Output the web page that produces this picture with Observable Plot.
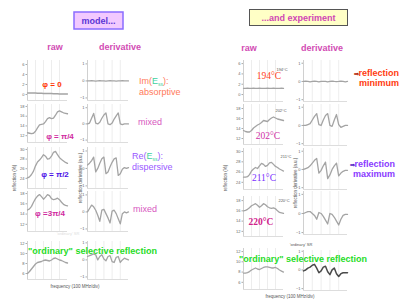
<!DOCTYPE html>
<html><head><meta charset="utf-8">
<script src="https://cdn.jsdelivr.net/npm/d3@7"></script>
<script src="https://cdn.jsdelivr.net/npm/@observablehq/plot@0.6"></script>
<style>
html,body{margin:0;padding:0;background:#fff;}
#fig{position:relative;width:406px;height:304px;overflow:hidden;background:#fff;font-family:"Liberation Sans",Arial,sans-serif;}
#fig svg.panel{position:absolute;}
#ann{position:absolute;left:0;top:0;}
</style></head><body><div id="fig"></div>
<script>
// frequency positions (100 MHz/div)
const freq = [0,0.5,1,1.5,2,2.5,3,3.5,4,4.5,5,5.5,6,6.5,7,7.5,8,8.5,9,9.5,10];
const gridFreq = [2,4,6,8];

// tick labels
const ticks0to6 = [0,2,4,6];
const ticks12to18 = [12,14,16,18];
const ticks24to30 = [24,26,28,30];
const ticks6to12 = [6,8,10,12];
const ticksDeriv = [-1,0,1];

// model: raw reflection (%)
const rawPhi0    = [0.3,0.3,0.3,0.3,0.3,0.25,0.25,0.25,0.2,0.2,0.2,0.2,0.2,0.15,0.15,0.15,0.1,0.1,0.1,0.1,0.1];
const rawPhiPi4  = [12.6,12.5,12.4,12.5,12.9,13.6,14.2,14.3,14.4,14.9,15.5,15.7,15.5,15.6,16.2,16.9,17.1,16.9,16.7,16.6,16.5];
const rawPhiPi2  = [24.1,24.3,24.8,25.5,26.6,27.4,27.8,28.3,28.9,28.6,28.0,28.1,28.6,29.4,29.6,28.9,28.3,27.9,27.6,27.3,27.1];
const rawPhi3Pi4 = [14.8,15.0,15.5,16.3,17.0,17.5,17.8,17.4,16.9,17.3,17.8,17.6,17.0,16.8,16.9,17.1,16.8,16.3,15.9,15.7,15.6];
const rawOrdModel= [6.0,6.4,6.9,7.4,7.9,8.2,8.3,8.4,8.6,8.7,8.6,8.5,8.7,9.0,9.1,8.9,8.7,8.6,8.4,8.2,8.1];
// model: derivative (a.u.)
const derPhi0    = [0.0,0.0,0.01,0.0,-0.01,0.0,0.01,0.0,0.0,-0.01,0.0,0.01,0.0,0.0,-0.01,0.0,0.0,0.01,0.0,0.0,0.0];
const derPhiPi4  = [0.0,0.05,0.35,0.65,0.05,0.0,0.1,0.35,0.55,0.68,0.0,-0.05,0.05,0.3,0.5,0.68,0.0,-0.05,0.0,0.0,0.0];
const derPhiPi2  = [0.2,0.3,0.45,0.65,-0.2,0.0,0.3,0.55,0.65,-0.3,-0.2,0.1,0.35,0.55,0.6,-0.4,-0.3,-0.05,0.05,0.0,0.05];
const derPhi3Pi4 = [0.0,0.2,0.4,0.3,0.1,-0.2,-0.55,0.1,0.15,-0.1,-0.35,-0.65,0.05,0.1,-0.1,-0.4,-0.7,-0.1,0.0,-0.05,0.0];
const derOrdModel= [0.2,0.25,0.3,0.35,0.3,0.0,0.2,0.3,0.05,-0.05,0.2,0.25,-0.1,-0.15,0.15,0.2,-0.15,0.0,0.1,0.05,0.0];

// experiment: raw reflection (%)
const rawT194 = [1.2,1.2,1.25,1.2,1.2,1.25,1.2,1.2,1.25,1.2,1.2,1.2,1.25,1.2,1.2,1.25,1.2,1.2,1.2,1.25,1.2];
const rawT202 = [13.6,13.4,13.3,13.3,13.6,14.1,14.4,14.7,14.9,15.2,15.6,15.5,15.4,15.8,16.1,16.3,16.1,15.9,15.8,15.7,15.6];
const rawT211 = [25.0,25.0,25.1,25.5,26.2,26.6,26.9,26.7,27.2,27.7,27.5,27.1,27.3,27.8,27.9,27.5,27.1,26.9,26.6,26.4,26.2];
const rawT220 = [16.0,16.1,16.3,16.6,17.0,17.2,17.4,17.1,16.7,17.0,17.4,17.2,16.8,16.6,16.5,16.6,16.4,16.0,15.7,15.6,15.5];
const rawOrdExp = [7.8,7.8,7.9,8.1,8.4,8.6,8.8,8.6,8.5,8.7,8.9,9.0,9.0,8.9,8.8,8.8,8.9,8.7,8.4,8.2,8.0];
// experiment: derivative (a.u.)
const derT194 = [0.0,0.02,0.0,-0.02,0.0,0.02,0.0,-0.02,0.0,0.01,0.0,-0.02,0.0,0.02,0.0,-0.01,0.0,0.02,0.0,-0.02,0.0];
const derT202 = [0.0,0.0,0.05,0.1,0.3,0.5,0.65,0.05,0.0,0.3,0.55,0.65,0.0,-0.05,0.3,0.6,0.05,-0.1,-0.05,0.0,0.0];
const derT211 = [0.0,0.05,0.1,0.2,0.35,0.5,0.6,-0.2,-0.05,0.2,0.4,-0.5,-0.3,0.0,0.2,0.35,-0.35,-0.2,-0.1,-0.05,-0.05];
const derT220 = [0.0,0.05,0.1,0.1,0.0,-0.1,-0.3,0.05,0.0,-0.15,-0.35,-0.55,0.0,-0.05,-0.2,-0.4,-0.6,-0.3,-0.1,-0.05,-0.05];
const derOrdExp = [-0.05,0.0,0.1,0.15,0.25,0.3,0.1,-0.15,-0.05,0.15,0.2,-0.1,-0.25,0.0,0.1,-0.2,-0.35,-0.2,-0.15,-0.15,-0.15];

const fig = document.getElementById("fig");

function panel(series, ticks, domain, frame, stroke = "#a4a4a4", sw = 1.3) {
  const [x0, x1, y0, y1] = frame;
  const ml = 12, mr = 2, mt = 2, mb = 2;
  const data = freq.map((f, i) => ({f, v: series[i]}));
  const svg = Plot.plot({
    width: (x1 - x0) + ml + mr,
    height: (y1 - y0) + mt + mb,
    marginLeft: ml, marginRight: mr, marginTop: mt, marginBottom: mb,
    x: {domain: [0, 10], axis: null},
    y: {domain, axis: null, label: null},
    style: {background: "transparent", overflow: "visible", fontFamily: "Liberation Sans, Arial, sans-serif", color: "#777"},
    marks: [
      Plot.ruleX(gridFreq, {stroke: "#e8e8e8", strokeWidth: 0.8}),
      Plot.ruleY([domain[0]], {stroke: "#d4d4d4", strokeWidth: 0.8}),
      Plot.ruleX([0], {stroke: "#c4c4c4", strokeWidth: 0.8}),
      Plot.axisY(ticks, {tickSize: 1.5, tickPadding: 1.5, fontSize: 4, label: null, stroke: "#aaa", fill: "#666"}),
      Plot.line(data, {x: "f", y: "v", stroke, strokeWidth: sw, curve: "linear"})
    ]
  });
  svg.classList.add("panel");
  svg.style.left = (x0 - ml) + "px";
  svg.style.top = (y0 - mt) + "px";
  fig.appendChild(svg);
}

// model panels
panel(rawPhi0,     ticks0to6,   [-1.2, 6.8],  [27, 67, 60, 100]);
panel(rawPhiPi4,   ticks12to18, [10.6, 18.4], [27, 67, 104, 142]);
panel(rawPhiPi2,   ticks24to30, [21.9, 30.4], [27, 67, 147, 188]);
panel(rawPhi3Pi4,  ticks12to18, [10.6, 18.4], [27, 67, 191, 231]);
panel(rawOrdModel, ticks6to12,  [4.8, 12.4],  [27, 67, 241, 279]);
panel(derPhi0,     ticksDeriv, [-1.15, 1.2], [87, 128, 60, 100]);
panel(derPhiPi4,   ticksDeriv, [-1.15, 1.2], [87, 128, 104, 142]);
panel(derPhiPi2,   ticksDeriv, [-1.15, 1.2], [87, 128, 147, 188]);
panel(derPhi3Pi4,  ticksDeriv, [-1.15, 1.2], [87, 128, 191, 231]);
panel(derOrdModel, ticksDeriv, [-1.15, 1.08], [87, 128, 241, 279]);

// experiment panels
panel(rawT194,   ticks0to6,   [-1.35, 6.6], [243, 283, 60, 101]);
panel(rawT202,   ticks12to18, [10.8, 18.8], [243, 283, 104, 144]);
panel(rawT211,   ticks24to30, [22.6, 30.6], [243, 283, 148, 189]);
panel(rawT220,   ticks12to18, [11, 18.8],   [243, 283, 196, 236]);
panel(rawOrdExp, ticks6to12,  [4.6, 12.6],  [243, 283, 248, 289]);
panel(derT194,   ticksDeriv, [-1.1, 1.15], [303, 347, 60, 101]);
panel(derT202,   ticksDeriv, [-1.1, 1.15], [303, 347, 104, 145]);
panel(derT211,   ticksDeriv, [-1.1, 1.15], [303, 347, 148, 189]);
panel(derT220,   ticksDeriv, [-1.1, 1.15], [303, 347, 191, 234]);
panel(derOrdExp, ticksDeriv, [-1.1, 1.04], [303, 347, 250, 290], "#4a4a4a", 1.5);

// annotations
const S = "Liberation Serif, Times New Roman, serif";
const ann = `
<svg id="ann" width="406" height="304" xmlns="http://www.w3.org/2000/svg" font-family="Liberation Sans, Arial, sans-serif">
  <rect x="74" y="12" width="49" height="17" fill="#f2c9ff" stroke="#8a6cff" stroke-width="1.5"/>
  <text x="98.5" y="24" text-anchor="middle" font-size="9" font-weight="bold" fill="#5b35d5">model...</text>
  <rect x="249.5" y="9.5" width="98" height="16" fill="#ffffc6" stroke="#555" stroke-width="1"/>
  <text x="298.5" y="21" text-anchor="middle" font-size="9" font-weight="bold" fill="#d046b4">...and experiment</text>

  <g font-size="9" font-weight="bold" fill="#d24cb4" text-anchor="middle">
    <text x="55" y="50">raw</text>
    <text x="120" y="50">derivative</text>
    <text x="249" y="51">raw</text>
    <text x="322" y="51">derivative</text>
  </g>

  <g font-size="8" font-weight="bold" text-anchor="middle">
    <text x="52" y="87" fill="#ff3300">φ = 0</text>
    <text x="60" y="139" fill="#d02aa0">φ = π/4</text>
    <text x="55" y="177" fill="#4a10e8">φ = π/2</text>
    <text x="50" y="216" fill="#d02aa0">φ =3π/4</text>
  </g>

  <g font-size="9">
    <text x="139" y="84" fill="#ff7a5a">Im(<tspan fill="#3fd0a0">E</tspan><tspan fill="#3fd0a0" font-size="5" dy="2">ss</tspan><tspan dy="-2">):</tspan></text>
    <text x="139" y="95" fill="#ff7a5a">absorptive</text>
    <text x="138" y="125" fill="#d858c0">mixed</text>
    <text x="132" y="159" fill="#9a58ff">Re(<tspan fill="#3fd0a0">E</tspan><tspan fill="#3fd0a0" font-size="5" dy="2">ss</tspan><tspan dy="-2">):</tspan></text>
    <text x="132" y="170" fill="#9a58ff">dispersive</text>
    <text x="133" y="212" fill="#d858c0">mixed</text>
  </g>

  <g font-size="9" font-weight="bold" fill="#26dc26">
    <text x="28" y="254" textLength="129" lengthAdjust="spacingAndGlyphs">"ordinary" selective reflection</text>
    <text x="239" y="262" textLength="128" lengthAdjust="spacingAndGlyphs">"ordinary" selective reflection</text>
  </g>

  <g font-size="9" font-weight="bold" text-anchor="end">
    <text x="399" y="76" fill="#ff3a10">reflection</text>
    <text x="399" y="86" fill="#ff3a10">minimum</text>
    <text x="359" y="76" font-size="6" fill="#b02000">⇒</text>
    <text x="395" y="167" fill="#8a3aff">reflection</text>
    <text x="395" y="177" fill="#8a3aff">maximum</text>
    <text x="355" y="167" font-size="6" fill="#5020c0">⇒</text>
  </g>

  <g font-family="${S}" font-size="9.5" text-anchor="middle">
    <text x="269" y="79" fill="#ff4020">194°C</text>
    <text x="268" y="139" fill="#d030a8">202°C</text>
    <text x="264" y="181" fill="#7a30ff">211°C</text>
    <text x="261" y="225" fill="#d0208a" font-weight="bold">220°C</text>
  </g>
  <g font-size="4" fill="#555" text-anchor="middle">
    <text x="282" y="71">194°C</text>
    <text x="281" y="112">202°C</text>
    <text x="286" y="158">211°C</text>
    <text x="284" y="202">220°C</text>
    <text x="301" y="246">'ordinary' SR</text>
    <text x="68" y="235" fill="#ddd">'ordinary' SR</text>
  </g>

  <g font-size="4.5" fill="#555" text-anchor="middle">
    <text x="75" y="288">frequency (100 MHz/div)</text>
    <text x="290" y="298">frequency (100 MHz/div)</text>
    <text transform="translate(16,178) rotate(-90)">reflection (%)</text>
    <text transform="translate(82,178) rotate(-90)">reflection derivative (a.u.)</text>
    <text transform="translate(227,178) rotate(-90)">reflection (%)</text>
    <text transform="translate(297,183) rotate(-90)">reflection derivative (a.u.)</text>
  </g>
</svg>`;
fig.insertAdjacentHTML("beforeend", ann);
</script>
</body></html>
